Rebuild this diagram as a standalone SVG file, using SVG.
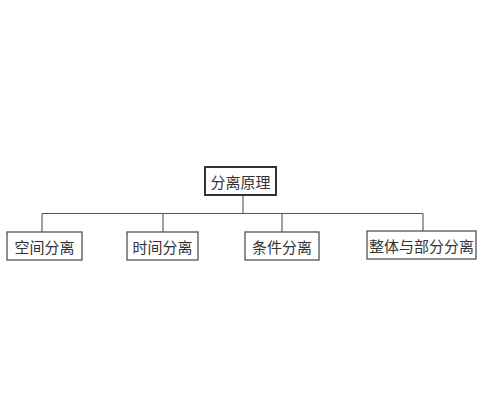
<svg xmlns="http://www.w3.org/2000/svg" width="481" height="400" viewBox="0 0 481 400">
<style>
.box{fill:#fff;stroke:#444;stroke-width:1.2}
.root{fill:#fff;stroke:#333;stroke-width:2}
.lbl{font-family:"Noto Sans CJK SC","Liberation Serif",serif;font-size:15px;fill:#333;text-anchor:middle;dominant-baseline:central}
.wire{fill:none;stroke:#555;stroke-width:1.1}
</style>
<rect width="481" height="400" fill="#fff"/>
<g id="connectors">
<path class="wire" d="M243 195V213.5M42 213.5H423M42 213.5V232M163 213.5V232M282 213.5V232M423 213.5V231"/>
</g>
<g id="root"><rect class="root" x="205" y="167" width="71" height="28"/><text class="lbl" x="240.5" y="181">分离原理</text></g>
<g id="n1"><rect class="box" x="7" y="232" width="75" height="28"/><text class="lbl" x="44.5" y="246">空间分离</text></g>
<g id="n2"><rect class="box" x="127" y="232" width="71" height="28"/><text class="lbl" x="162.5" y="246">时间分离</text></g>
<g id="n3"><rect class="box" x="245" y="232" width="74" height="28"/><text class="lbl" x="282" y="246">条件分离</text></g>
<g id="n4"><rect class="box" x="367" y="231" width="109" height="28"/><text class="lbl" x="421.5" y="245">整体与部分分离</text></g>
</svg>
